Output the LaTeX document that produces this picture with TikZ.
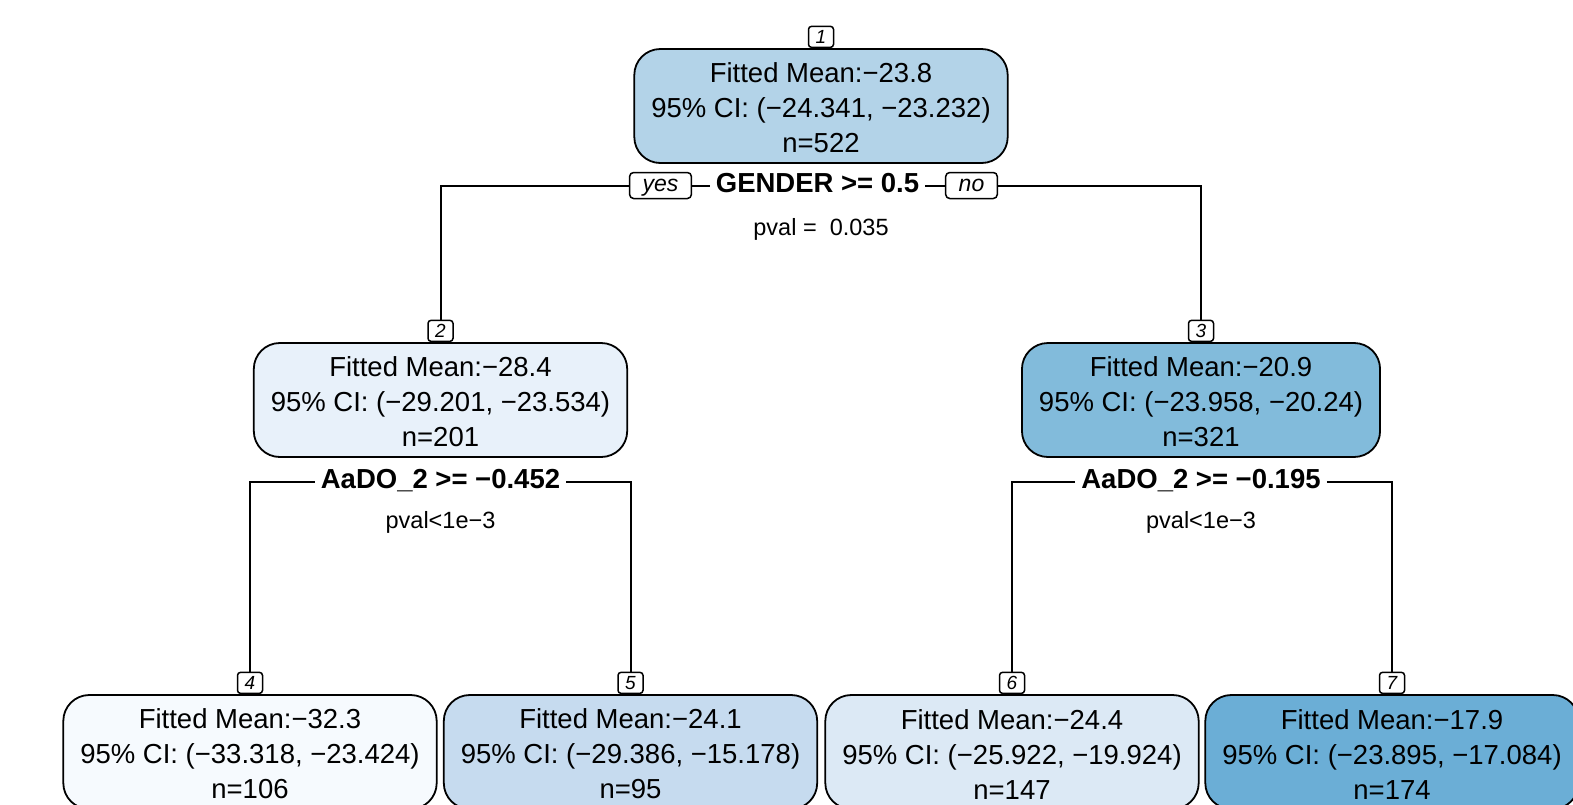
\documentclass[tikz,border=0pt]{standalone}
\usepackage{fontspec}
\setmainfont{Liberation Sans}
\definecolor{c1}{HTML}{B3D3E8}
\definecolor{c2}{HTML}{E8F1FA}
\definecolor{c3}{HTML}{82BBDB}
\definecolor{c4}{HTML}{F6FAFE}
\definecolor{c5}{HTML}{C6DBEF}
\definecolor{c6}{HTML}{DCE9F5}
\definecolor{c7}{HTML}{6BAED6}
\begin{document}
\begin{tikzpicture}[x=1pt,y=-1pt,
  every node/.style={inner sep=0pt},
  tnode/.style={draw=black, line width=1.8pt, rounded corners=26pt, align=center,
    inner xsep=17pt, inner ysep=0pt, minimum height=114pt,
    font=\fontsize{27.5}{35}\selectfont},
  nlab/.style={draw=black, line width=1.5pt, rounded corners=3pt, fill=white,
    minimum width=25pt, minimum height=21pt, anchor=south,
    font=\fontsize{19}{21}\selectfont\itshape, text height=13.6pt, text depth=0pt},
  dirlab/.style={draw=black, line width=1.5pt, rounded corners=4pt, fill=white,
    minimum height=26pt, inner xsep=13pt,
    font=\fontsize{23}{25}\selectfont\itshape, text height=17pt, text depth=4.5pt},
  splitlab/.style={font=\fontsize{27.5}{30}\selectfont\bfseries, inner xsep=6pt,
    text height=20pt, text depth=6pt},
  pvallab/.style={font=\fontsize{23.5}{26}\selectfont, anchor=base},
  edge/.style={line width=2pt}
]
\useasboundingbox (0,0) rectangle (1573,804);
\clip (0,0) rectangle (1573,804);
\fill[white] (0,0) rectangle (1573,804);

% tree nodes
\node[tnode, fill=c1] (n1) at (821,106) {\rule{0pt}{24pt}Fitted Mean:−23.8\\95\% CI: (−24.341, −23.232)\\n=522};
\node[tnode, fill=c2] (n2) at (440.5,400) {\rule{0pt}{24pt}Fitted Mean:−28.4\\95\% CI: (−29.201, −23.534)\\n=201};
\node[tnode, fill=c3] (n3) at (1201,400) {\rule{0pt}{24pt}Fitted Mean:−20.9\\95\% CI: (−23.958, −20.24)\\n=321};
\node[tnode, fill=c4] (n4) at (250,752) {\rule{0pt}{24pt}Fitted Mean:−32.3\\95\% CI: (−33.318, −23.424)\\n=106};
\node[tnode, fill=c5] (n5) at (630.5,752) {\rule{0pt}{24pt}Fitted Mean:−24.1\\95\% CI: (−29.386, −15.178)\\n=95};
\node[tnode, fill=c6] (n6) at (1012,752) {\rule{0pt}{24pt}Fitted Mean:−24.4\\95\% CI: (−25.922, −19.924)\\n=147};
\node[tnode, fill=c7] (n7) at (1392,752) {\rule{0pt}{24pt}Fitted Mean:−17.9\\95\% CI: (−23.895, −17.084)\\n=174};

% node number labels
\node[nlab] (lab1) at (n1.north) {1};
\node[nlab] (lab2) at (n2.north) {2};
\node[nlab] (lab3) at (n3.north) {3};
\node[nlab] (lab4) at (n4.north) {4};
\node[nlab] (lab5) at (n5.north) {5};
\node[nlab] (lab6) at (n6.north) {6};
\node[nlab] (lab7) at (n7.north) {7};

% split of node 1
\node[dirlab] (yes) at (660.5,185.5) {yes};
\node[splitlab] (gen) at (817.5,185.5) {GENDER >= 0.5};
\node[dirlab] (no) at (971.5,185.5) {no};
\node[pvallab] (p1) at (821,235) {pval = \ 0.035};

% split of node 2
\node[splitlab] (s2) at (440.5,481.7) {AaDO\_2 >= −0.452};
\node[pvallab] (p2) at (440.5,528) {pval<1e−3};

% split of node 3
\node[splitlab] (s3) at (1201,481.7) {AaDO\_2 >= −0.195};
\node[pvallab] (p3) at (1201,528) {pval<1e−3};

% connectors
\draw[edge] (yes.west) -| (lab2.north);
\draw[edge] (yes.east) -- (gen.west);
\draw[edge] (gen.east) -- (no.west);
\draw[edge] (no.east) -| (lab3.north);
\draw[edge] (s2.west) -| (lab4.north);
\draw[edge] (s2.east) -| (lab5.north);
\draw[edge] (s3.west) -| (lab6.north);
\draw[edge] (s3.east) -| (lab7.north);
\end{tikzpicture}
\end{document}
